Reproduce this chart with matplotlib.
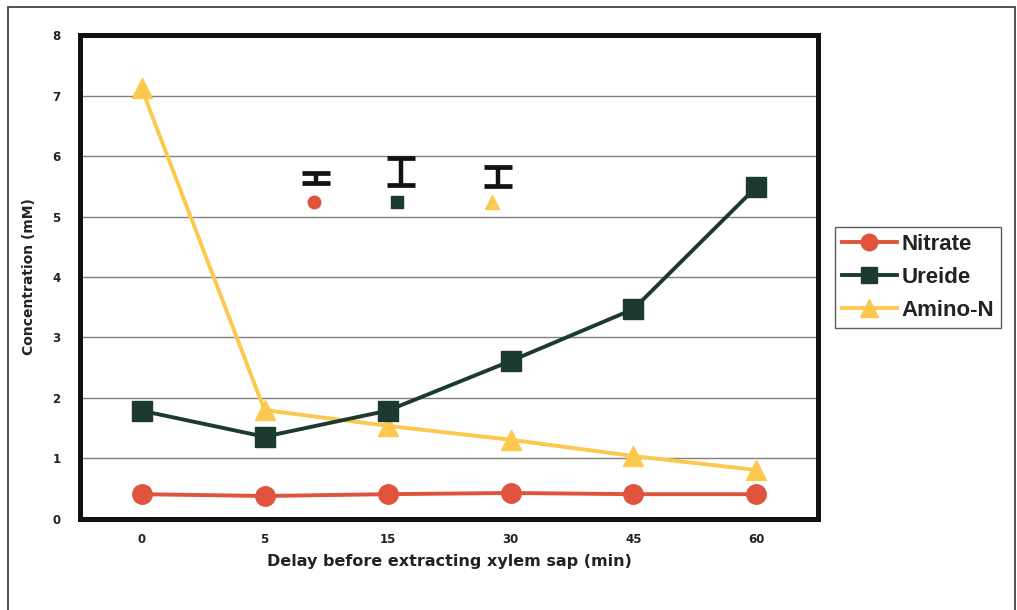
import matplotlib.pyplot as plt
from matplotlib.patches import Rectangle

plt.rcParams['font.family'] = ['Liberation Sans', 'DejaVu Sans']

delays = ["0", "5", "15", "30", "45", "60"]
nitrate = [0.41, 0.38, 0.41, 0.43, 0.41, 0.41]
ureide = [1.79, 1.36, 1.79, 2.61, 3.47, 5.49]
amino_n = [7.12, 1.80, 1.54, 1.31, 1.04, 0.81]

# standard error key drawn inside the plot
key_err_x = [1.42, 2.11, 2.90]
key_err_y = [5.64, 5.74, 5.66]
key_err = [0.08, 0.22, 0.16]
key_mark_x = [1.40, 2.08, 2.85]
key_mark_y = 5.24

red = '#E0533C'
dark = '#1C3A2E'
yellow = '#FCC84E'

fig = plt.figure(figsize=(10.17, 6.10), dpi=100)
ax = fig.add_axes([0.0787, 0.1492, 0.7256, 0.7934])

x = list(range(len(delays)))
ax.plot(x, nitrate, color=red, lw=2.8, marker='o', ms=14, label='Nitrate', zorder=3)
ax.plot(x, ureide, color=dark, lw=2.8, marker='s', ms=14, label='Ureide', zorder=4)
ax.plot(x, amino_n, color=yellow, lw=2.8, marker='^', ms=15, label='Amino-N', zorder=2)

ax.errorbar(key_err_x, key_err_y, yerr=key_err, fmt='none', ecolor='#111111',
            elinewidth=3.2, capsize=10, capthick=3.4, zorder=5)
for kx, m, c, s in zip(key_mark_x, ['o', 's', '^'], [red, dark, yellow], [9, 9, 10]):
    ax.plot(kx, key_mark_y, marker=m, color=c, ms=s, ls='none', zorder=5)

ax.set_xlim(-0.5, 5.5)
ax.set_ylim(0, 8)
ax.set_xticks(x)
ax.set_xticklabels(delays)
ax.set_yticks(range(9))
ax.grid(axis='y', color='#808080', lw=1)
ax.set_axisbelow(True)
ax.tick_params(axis='both', length=0, labelsize=8.5, pad=14)
for lab in ax.get_xticklabels() + ax.get_yticklabels():
    lab.set_fontweight('bold')
    lab.set_fontfamily('DejaVu Sans')
    lab.set_color('#222222')
ax.tick_params(axis='x', pad=10)
for sp in ax.spines.values():
    sp.set_linewidth(3.6)
    sp.set_color('#111111')

ax.set_xlabel('Delay before extracting xylem sap (min)', fontsize=11.5,
              fontweight='bold', family='DejaVu Sans', color='#222222', labelpad=6)
ax.set_ylabel('Concentration (mM)', fontsize=10, fontweight='bold',
              family='DejaVu Sans', color='#222222', labelpad=12)

leg = fig.legend(loc='upper left', bbox_to_anchor=(0.821, 0.628), borderaxespad=0,
                 prop={'size': 16, 'weight': 'bold'}, frameon=True, fancybox=False,
                 edgecolor='#333333', handlelength=2.5, handletextpad=0.2,
                 borderpad=0.3, labelspacing=0.55, markerscale=0.85)
leg.get_frame().set_linewidth(1.0)
for t in leg.get_texts():
    t.set_color('#222222')

# thin frame round the whole figure
fig.patches.append(Rectangle((0.008, -0.05), 0.99, 1.038, transform=fig.transFigure,
                             fill=False, edgecolor='#333333', lw=1.2))

fig.savefig('out.png', dpi=100)
